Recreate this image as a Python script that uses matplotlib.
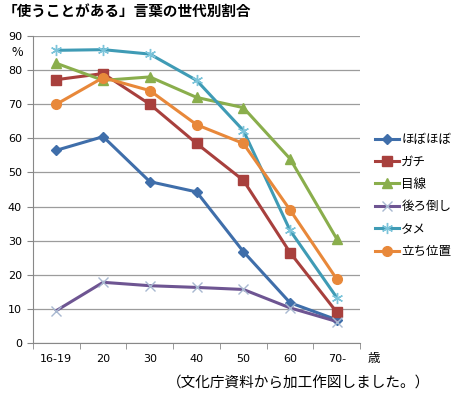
import matplotlib.pyplot as plt

plt.rcParams['font.family'] = ['Noto Sans CJK JP', 'DejaVu Sans']

#---------------------------------DATA--------------------
ages = ['16-19', '20', '30', '40', '50', '60', '70-']
hobohobo = [56.5, 60.5, 47.3, 44.3, 26.8, 11.8, 6.8]
gachi = [77.2, 79.0, 70.0, 58.5, 47.7, 26.5, 9.0]
mesen = [82.0, 77.0, 78.0, 72.0, 69.0, 54.0, 30.5]
ushirodaoshi = [9.5, 17.8, 16.8, 16.3, 15.7, 10.3, 6.3]
tame = [85.8, 86.0, 84.7, 77.0, 62.3, 33.0, 13.3]
tachiichi = [70.0, 77.8, 74.0, 64.0, 58.5, 39.0, 18.7]
yticks = [0, 10, 20, 30, 40, 50, 60, 70, 80, 90]

#--------------------------------PLOT----
fig = plt.figure(figsize=(4.57, 3.94), dpi=100)
ax = fig.add_axes([0.0722, 0.1294, 0.716, 0.7792])

x = range(len(ages))
series = [
    ('ほぼほぼ', hobohobo, '#3F6EAA', 'D', 5),
    ('ガチ', gachi, '#A8403D', 's', 7),
    ('目線', mesen, '#8AAE4C', '^', 7),
    ('後ろ倒し', ushirodaoshi, '#6E5592', 'x', 7),
    ('タメ', tame, '#3F9BB5', (6, 2, 0), 8),
    ('立ち位置', tachiichi, '#E8883A', 'o', 7),
]
for name, vals, col, mk, ms in series:
    if mk in ('x',) or isinstance(mk, tuple):
        ax.plot(x, vals, color=col, lw=2.2, marker=mk, ms=ms,
                markeredgewidth=1.0, markeredgecolor='#A8B8D0' if mk == 'x' else '#7CC4DA',
                label=name)
    else:
        ax.plot(x, vals, color=col, lw=2.2, marker=mk, ms=ms, label=name)

ax.set_xlim(-0.5, 6.5)
ax.set_ylim(0, 90)
ax.set_yticks(yticks)
ax.set_yticklabels([str(v) for v in yticks], fontsize=8, family='DejaVu Sans')
ax.yaxis.grid(True, color='#9C9C9C', lw=0.9)
ax.set_axisbelow(True)
ax.set_xticks(list(x))
ax.set_xticklabels(ages, fontsize=8, family='DejaVu Sans')
ax.set_xticks([i - 0.5 for i in range(len(ages) + 1)], minor=True)
ax.tick_params(axis='x', which='major', length=0, pad=8)
ax.tick_params(axis='x', which='minor', length=4, color='#888888')
ax.tick_params(axis='y', length=4, color='#888888', pad=4)
for s in ['top', 'right']:
    ax.spines[s].set_visible(False)
ax.spines['left'].set_color('#888888')
ax.spines['bottom'].set_color('#888888')

ax.legend(loc='upper left', bbox_to_anchor=(1.03, 0.7), frameon=False, fontsize=9,
          handlelength=1.9, handletextpad=0.2, labelspacing=0.75, borderaxespad=0)

fig.text(0.005, 0.99, '「使うことがある」言葉の世代別割合', fontsize=10.5,
         fontweight='bold', va='top', ha='left')
fig.text(0.025, 0.868, '%', fontsize=9, ha='left', va='center')
fig.text(0.805, 0.09, '歳', fontsize=9, ha='left', va='center')
fig.text(0.365, 0.03, '（文化庁資料から加工作図しました。）', fontsize=10.5, ha='left', va='center')

plt.savefig('out.png', dpi=100)
